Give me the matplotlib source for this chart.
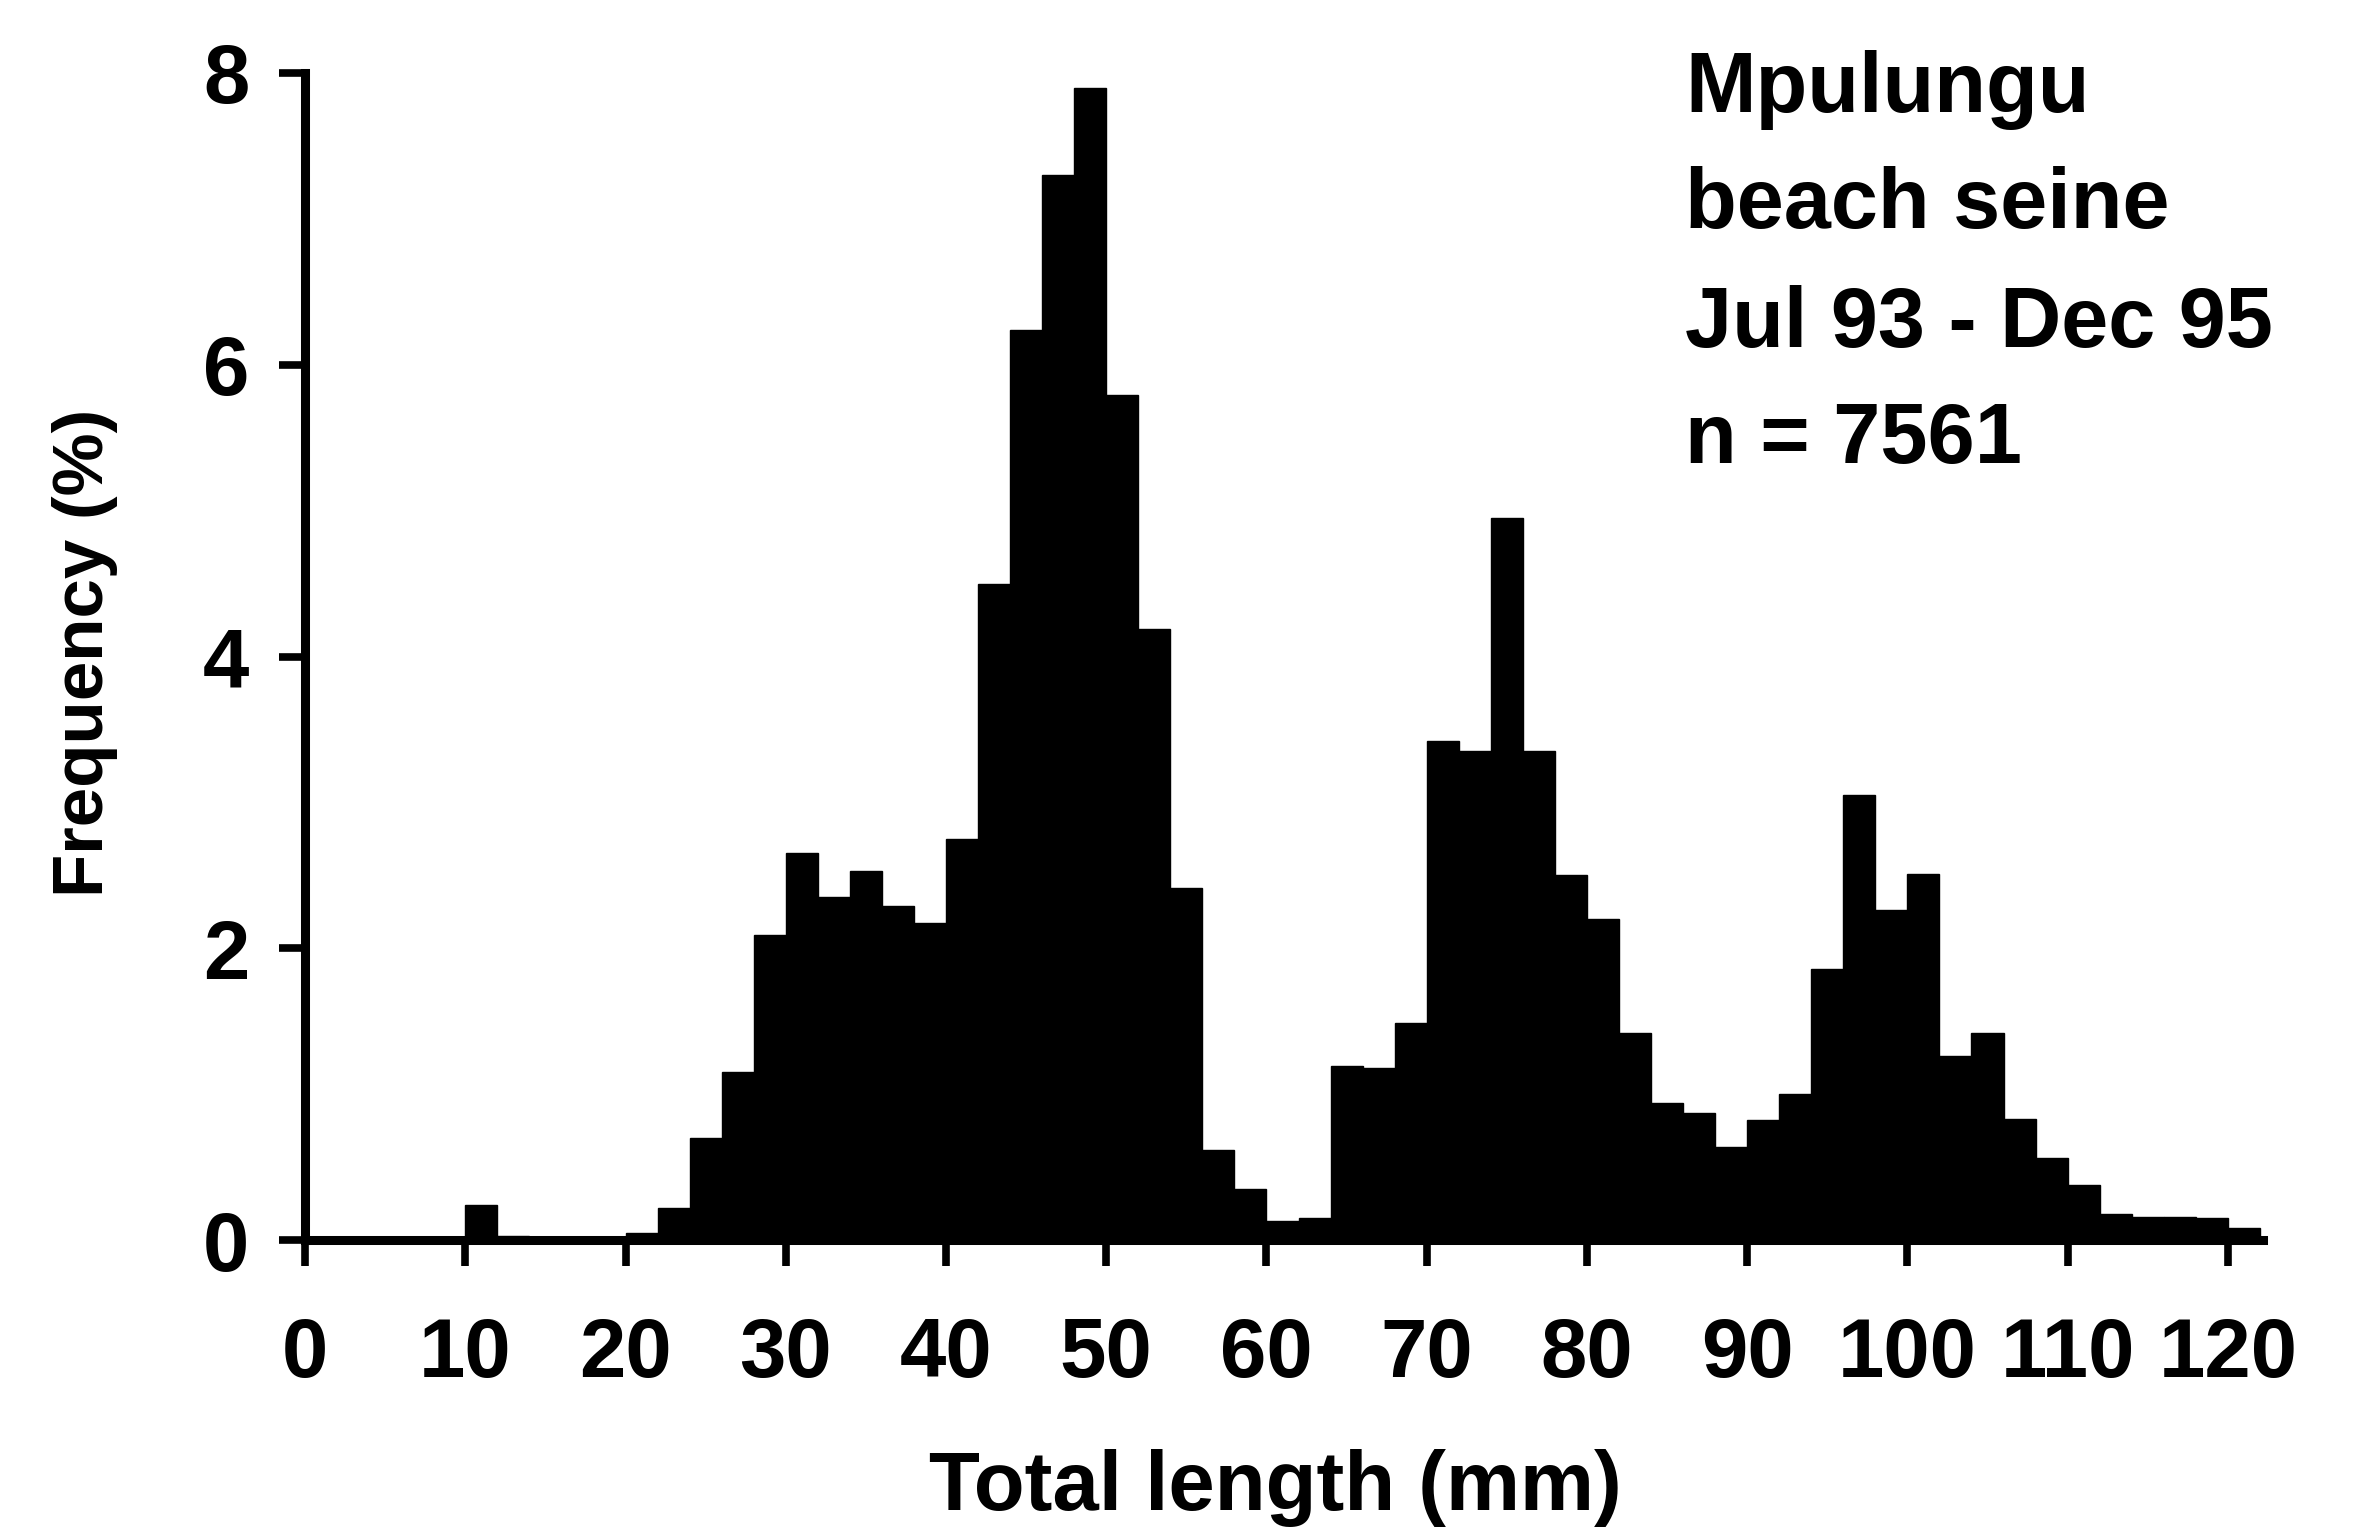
import matplotlib
matplotlib.use("Agg")
import matplotlib.pyplot as plt

# Length classes (left edge of each 2-mm class, mm)
bin_start_mm = [0, 2, 4, 6, 8, 10, 12, 14, 16, 18,
                20, 22, 24, 26, 28, 30, 32, 34, 36, 38,
                40, 42, 44, 46, 48, 50, 52, 54, 56, 58,
                60, 62, 64, 66, 68, 70, 72, 74, 76, 78,
                80, 82, 84, 86, 88, 90, 92, 94, 96, 98,
                100, 102, 104, 106, 108, 110, 112, 114, 116, 118,
                120]
bin_width_mm = 2

# Frequency (%) per length class
freq_pct = [0, 0, 0, 0, 0, 0.24, 0.03, 0, 0, 0,
            0.05, 0.22, 0.70, 1.15, 2.09, 2.65, 2.35, 2.53, 2.29, 2.17,
            2.75, 4.50, 6.24, 7.30, 7.90, 5.79, 4.19, 2.41, 0.62, 0.35,
            0.13, 0.15, 1.19, 1.18, 1.49, 3.42, 3.35, 4.95, 3.35, 2.50,
            2.20, 1.42, 0.94, 0.87, 0.64, 0.82, 1.00, 1.86, 3.05, 2.26,
            2.51, 1.26, 1.42, 0.83, 0.56, 0.38, 0.18, 0.16, 0.16, 0.15,
            0.08]

x_ticks = [0, 10, 20, 30, 40, 50, 60, 70, 80, 90, 100, 110, 120]
y_ticks = [0, 2, 4, 6, 8]

annotation_lines = ["Mpulungu", "beach seine", "Jul 93 - Dec 95", "n = 7561"]
x_label = "Total length (mm)"
y_label = "Frequency (%)"

FONT = "Liberation Sans"
plt.rcParams["font.family"] = [FONT, "DejaVu Sans"]

fig = plt.figure(figsize=(23.72, 15.33), dpi=100)
fig.patch.set_facecolor("white")

left, bottom, right, top = 0.1286, 0.1911, 0.9541, 0.9524
ax = fig.add_axes([left, bottom, right - left, top - bottom])

ax.bar(bin_start_mm, freq_pct, width=bin_width_mm, align="edge",
       color="black", edgecolor="black", linewidth=1.0, zorder=2)

ax.set_xlim(0, 122.2)
ax.set_ylim(0, 8)

LW = 6.5
for s in ["top", "right"]:
    ax.spines[s].set_visible(False)
for s in ["left", "bottom"]:
    ax.spines[s].set_linewidth(LW)
    ax.spines[s].set_color("black")
    ax.spines[s].set_capstyle("projecting")
    ax.spines[s].set_zorder(3)

ax.set_xticks(x_ticks)
ax.set_xticklabels([str(v) for v in x_ticks])
ax.set_yticks(y_ticks)
ax.set_yticklabels([str(v) for v in y_ticks])

ax.tick_params(axis="x", direction="out", length=19, width=LW - 1, pad=36,
               labelsize=60)
ax.tick_params(axis="y", direction="out", length=19, width=LW - 1, pad=21,
               labelsize=60)
for lab in ax.get_xticklabels() + ax.get_yticklabels():
    lab.set_fontweight("bold")
    lab.set_family([FONT, "DejaVu Sans"])

# Axis labels
fig.text(0.5375, 0.015, x_label, ha="center", va="baseline",
         fontsize=60, fontweight="bold")
fig.text(0.036, 0.574, y_label, ha="center", va="center", rotation=90,
         fontsize=51, fontweight="bold")

# Annotation block
baselines = [0.9269, 0.8513, 0.7736, 0.6980]
for txt, yb in zip(annotation_lines, baselines):
    fig.text(0.7104, yb, txt, ha="left", va="baseline",
             fontsize=61, fontweight="bold")

fig.savefig("out.png", dpi=100, facecolor="white")
